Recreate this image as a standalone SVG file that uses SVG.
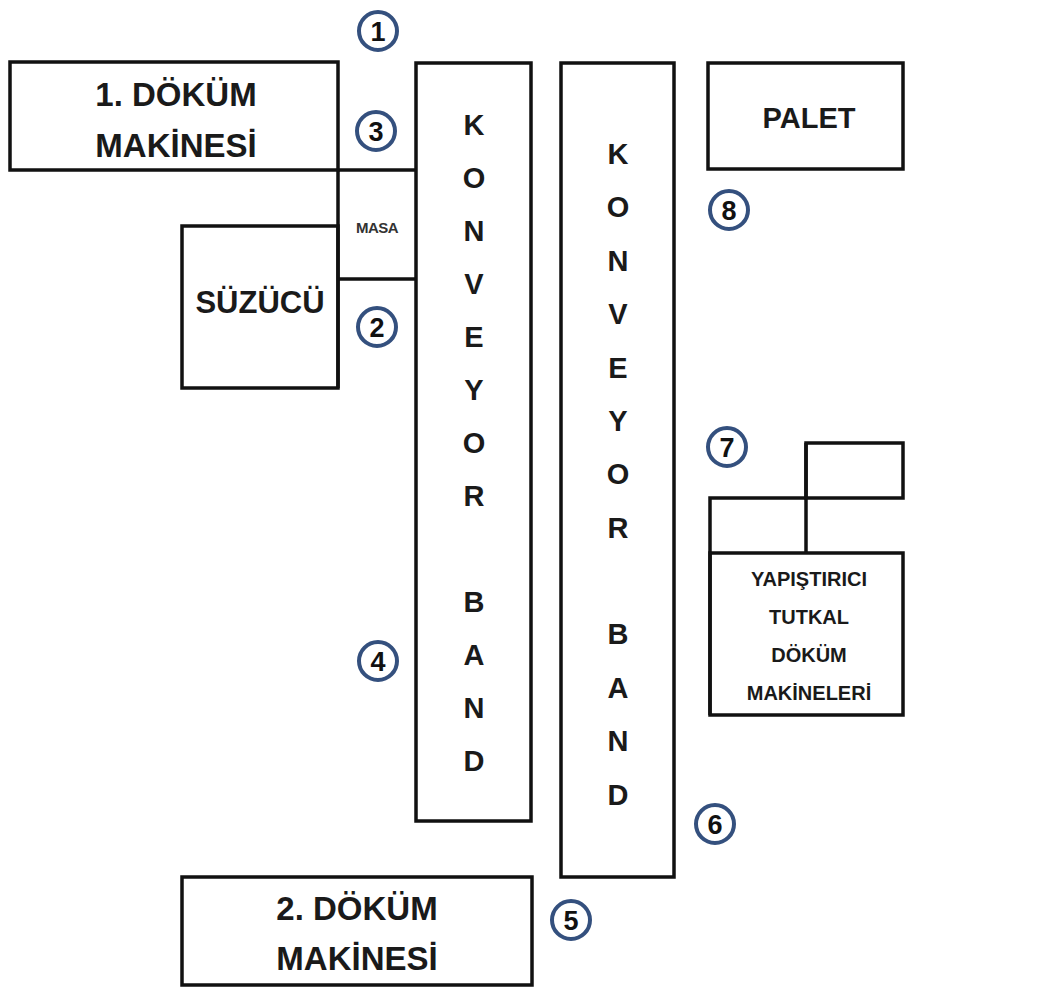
<svg xmlns="http://www.w3.org/2000/svg" width="1042" height="988" viewBox="0 0 1042 988">
<style>
.box{fill:none;stroke:#111;stroke-width:3.5}
.ln{fill:none;stroke:#111;stroke-width:3.5}
.big{font-family:"Liberation Sans",Arial,sans-serif;font-weight:bold;font-size:33px;fill:#1a1a1a;text-anchor:middle}
.conv{font-family:"Liberation Sans",Arial,sans-serif;font-weight:bold;font-size:29px;fill:#1a1a1a;text-anchor:middle}
.sm{font-family:"Liberation Sans",Arial,sans-serif;font-weight:bold;font-size:20px;fill:#1a1a1a;text-anchor:middle}
.masa{font-family:"Liberation Sans",Arial,sans-serif;font-weight:bold;font-size:15px;fill:#333;text-anchor:middle;letter-spacing:-0.5px}
.cir{fill:#fff;stroke:#34507e;stroke-width:4}
.num{font-family:"Liberation Sans",Arial,sans-serif;font-weight:bold;font-size:27px;fill:#111;text-anchor:middle}
</style>
<rect width="1042" height="988" fill="#fff"/>
<g id="connectors">
<path class="ln" d="M338 170 H416"/>
<path class="ln" d="M338 170 V388"/>
<path class="ln" d="M338 279 H416"/>
<path class="ln" d="M710 715 V498 H806"/>
<path class="ln" d="M806 443 V553"/>
</g>
<g id="dokum1">
<rect class="box" x="10" y="62" width="328" height="108"/>
<text class="big" x="176" y="106">1. DÖKÜM</text>
<text class="big" x="176" y="157">MAKİNESİ</text>
</g>
<g id="masa">
<text class="masa" x="377" y="233">MASA</text>
</g>
<g id="suzucu">
<rect class="box" x="182" y="226" width="156" height="162"/>
<text class="big" x="260" y="313" style="font-size:31px">SÜZÜCÜ</text>
</g>
<g id="konveyor1">
<rect class="box" x="416" y="63" width="115" height="758"/>
<text class="conv" x="474" y="135">K</text>
<text class="conv" x="474" y="188">O</text>
<text class="conv" x="474" y="241">N</text>
<text class="conv" x="474" y="294">V</text>
<text class="conv" x="474" y="347">E</text>
<text class="conv" x="474" y="400">Y</text>
<text class="conv" x="474" y="453">O</text>
<text class="conv" x="474" y="506">R</text>
<text class="conv" x="474" y="612">B</text>
<text class="conv" x="474" y="665">A</text>
<text class="conv" x="474" y="718">N</text>
<text class="conv" x="474" y="771">D</text>
</g>
<g id="konveyor2">
<rect class="box" x="561" y="63" width="113" height="814"/>
<text class="conv" x="618" y="164">K</text>
<text class="conv" x="618" y="217">O</text>
<text class="conv" x="618" y="271">N</text>
<text class="conv" x="618" y="324">V</text>
<text class="conv" x="618" y="378">E</text>
<text class="conv" x="618" y="431">Y</text>
<text class="conv" x="618" y="484">O</text>
<text class="conv" x="618" y="538">R</text>
<text class="conv" x="618" y="644">B</text>
<text class="conv" x="618" y="698">A</text>
<text class="conv" x="618" y="751">N</text>
<text class="conv" x="618" y="805">D</text>
</g>
<g id="palet">
<rect class="box" x="708" y="63" width="195" height="106"/>
<text class="big" x="809" y="128" style="font-size:29px">PALET</text>
</g>
<g id="tutkal-top">
<rect class="box" x="806" y="443" width="97" height="55"/>
</g>
<g id="tutkal">
<rect class="box" x="710" y="553" width="193" height="162"/>
<text class="sm" x="809" y="586">YAPIŞTIRICI</text>
<text class="sm" x="809" y="624">TUTKAL</text>
<text class="sm" x="809" y="662">DÖKÜM</text>
<text class="sm" x="809" y="700">MAKİNELERİ</text>
</g>
<g id="dokum2">
<rect class="box" x="182" y="877" width="350" height="108"/>
<text class="big" x="357" y="920">2. DÖKÜM</text>
<text class="big" x="357" y="970">MAKİNESİ</text>
</g>
<g id="c1"><circle class="cir" cx="378" cy="31" r="19"/><text class="num" x="378" y="41">1</text></g>
<g id="c3"><circle class="cir" cx="376" cy="131" r="19"/><text class="num" x="376" y="141">3</text></g>
<g id="c2"><circle class="cir" cx="377" cy="327" r="19"/><text class="num" x="377" y="337">2</text></g>
<g id="c4"><circle class="cir" cx="378" cy="661" r="19"/><text class="num" x="378" y="671">4</text></g>
<g id="c5"><circle class="cir" cx="571" cy="920" r="19"/><text class="num" x="571" y="930">5</text></g>
<g id="c6"><circle class="cir" cx="715" cy="824" r="19"/><text class="num" x="715" y="834">6</text></g>
<g id="c7"><circle class="cir" cx="727" cy="447" r="19"/><text class="num" x="727" y="457">7</text></g>
<g id="c8"><circle class="cir" cx="729" cy="210" r="19"/><text class="num" x="729" y="220">8</text></g>
</svg>
